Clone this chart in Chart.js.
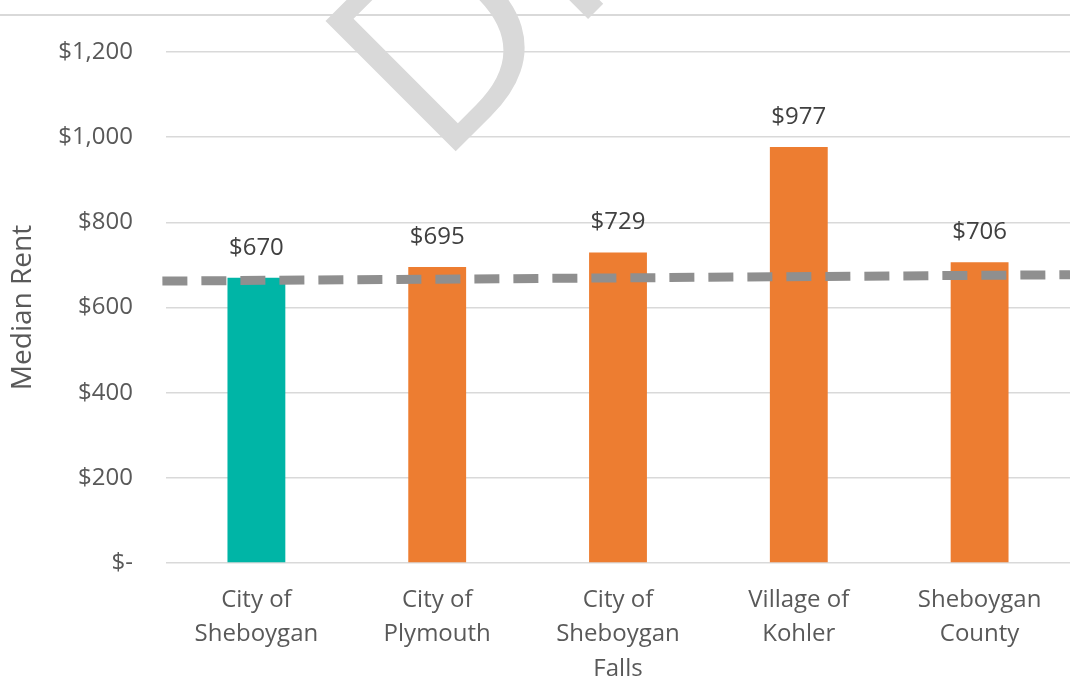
<!DOCTYPE html>
<html><head><meta charset="utf-8">
<script src="https://cdn.jsdelivr.net/npm/chart.js@4.4.1/dist/chart.umd.min.js"></script>
<style>html,body{margin:0;padding:0;background:#fff;}#wrap{width:1070px;height:679px;position:relative;}</style>
</head><body><div id="wrap"><canvas id="c" width="1070" height="679"></canvas></div>
<script>
const categories = [["City of","Sheboygan"],["City of","Plymouth"],["City of","Sheboygan","Falls"],["Village of","Kohler"],["Sheboygan","County"]];
const medianRent = [670, 695, 729, 977, 706];
const barColors = ["#00B5A6","#ED7D31","#ED7D31","#ED7D31","#ED7D31"];
const refLineX = [-0.004, 1];
const refLineY = [662, 677];
const yTicks = [0, 200, 400, 600, 800, 1000, 1200];
const watermarkText = "DRAFT";

const fmt = v => v === 0 ? "$-" : "$" + v.toLocaleString("en-US");

const deco = {
  id: 'deco',
  beforeDraw(chart) {
    const ctx = chart.ctx;
    ctx.save();
    ctx.strokeStyle = '#d9d9d9'; ctx.lineWidth = 2;
    ctx.beginPath(); ctx.moveTo(0, 15); ctx.lineTo(1070, 15); ctx.stroke();
    ctx.translate(455, 152);
    ctx.rotate(-Math.PI / 4);
    ctx.font = '258px "Open Sans"';
    ctx.fillStyle = '#d9d9d9';
    ctx.textBaseline = 'alphabetic';
    const m = ctx.measureText(watermarkText[0]);
    ctx.fillText(watermarkText, m.actualBoundingBoxLeft, 0);
    ctx.restore();
  },
  afterDatasetsDraw(chart) {
    const ctx = chart.ctx;
    const meta = chart.getDatasetMeta(1);
    ctx.save();
    ctx.font = '24px "Open Sans"';
    ctx.fillStyle = '#404040';
    ctx.textAlign = 'center'; ctx.textBaseline = 'middle';
    meta.data.forEach((el, i) => {
      ctx.fillText(fmt(medianRent[i]), el.x, el.y - 30);
    });
    ctx.restore();
  }
};

new Chart(document.getElementById('c'), {
  data: {
    labels: categories,
    datasets: [
      {
        type: 'line', xAxisID: 'x2',
        data: refLineX.map((x, i) => ({x, y: refLineY[i]})),
        borderColor: '#8f8f8f', borderWidth: 9, borderDash: [25, 14],
        pointRadius: 0, fill: false, clip: false, order: 0
      },
      {
        type: 'bar', xAxisID: 'x', grouped: false,
        data: medianRent, backgroundColor: barColors,
        categoryPercentage: 1, barPercentage: 0.32, order: 1
      }
    ]
  },
  options: {
    responsive: false, animation: false,
    layout: { padding: { top: 52, right: 0, left: 0, bottom: 0 } },
    plugins: { legend: { display: false }, tooltip: { enabled: false } },
    scales: {
      x: {
        type: 'category', position: 'bottom',
        afterFit(s) { s.height = 116; },
        grid: { display: false }, border: { display: false },
        ticks: { color: '#595959', font: { family: 'Open Sans', size: 24, lineHeight: 1.43 }, padding: 12, maxRotation: 0, autoSkip: false }
      },
      x2: { type: 'linear', display: false, min: 0, max: 1 },
      y: {
        min: 0, max: 1200,
        afterBuildTicks(s) { s.ticks = yTicks.map(v => ({value: v})); },
        afterFit(s) { s.width = 166; },
        grid: { color: '#d9d9d9', lineWidth: 1.5, drawTicks: false },
        border: { display: false },
        ticks: { color: '#595959', font: { family: 'Open Sans', size: 24 }, padding: 33, callback: v => fmt(v) },
        title: { display: true, text: 'Median Rent', color: '#595959', font: { family: 'Open Sans', size: 28 }, padding: { top: 6, bottom: 0 } }
      }
    }
  },
  plugins: [deco]
});
</script></body></html>
